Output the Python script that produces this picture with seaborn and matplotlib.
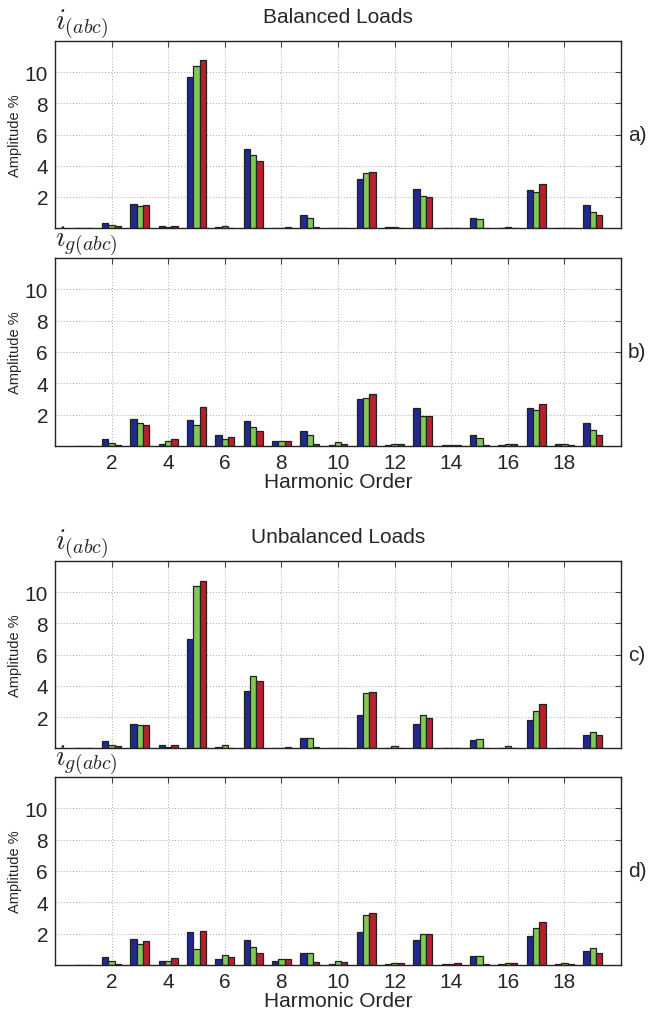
import pandas as pd
import numpy as np
import matplotlib
matplotlib.use("Agg")
import matplotlib.pyplot as plt
import seaborn as sns

harmonics = list(range(1, 20))
phases = ["a", "b", "c"]

# amplitude % per harmonic (1..19), phases a / b / c
bal_i_a = [0.0, 0.35, 1.57, 0.16, 9.68, 0.08, 5.08, 0.02, 0.85, 0.02, 3.15, 0.08, 2.49, 0.02, 0.65, 0.03, 2.43, 0.03, 1.49]
bal_i_b = [0.0, 0.20, 1.40, 0.08, 10.40, 0.16, 4.67, 0.02, 0.65, 0.02, 3.50, 0.08, 2.06, 0.02, 0.57, 0.08, 2.32, 0.03, 1.02]
bal_i_c = [0.0, 0.15, 1.49, 0.16, 10.77, 0.02, 4.33, 0.07, 0.07, 0.02, 3.58, 0.02, 1.98, 0.02, 0.02, 0.02, 2.83, 0.03, 0.82]

bal_g_a = [0.0, 0.45, 1.75, 0.13, 1.66, 0.69, 1.58, 0.30, 0.94, 0.05, 2.98, 0.05, 2.40, 0.04, 0.71, 0.05, 2.40, 0.13, 1.45]
bal_g_b = [0.0, 0.22, 1.45, 0.30, 1.34, 0.43, 1.24, 0.30, 0.71, 0.24, 3.06, 0.13, 1.91, 0.04, 0.54, 0.13, 2.32, 0.13, 1.00]
bal_g_c = [0.0, 0.05, 1.34, 0.43, 2.47, 0.60, 0.94, 0.30, 0.11, 0.13, 3.30, 0.13, 1.91, 0.04, 0.05, 0.13, 2.66, 0.05, 0.69]

unb_i_a = [0.0, 0.45, 1.58, 0.22, 7.00, 0.11, 3.70, 0.05, 0.69, 0.05, 2.15, 0.05, 1.58, 0.04, 0.52, 0.05, 1.83, 0.04, 0.86]
unb_i_b = [0.0, 0.22, 1.49, 0.11, 10.41, 0.22, 4.61, 0.05, 0.69, 0.05, 3.53, 0.13, 2.15, 0.04, 0.60, 0.13, 2.40, 0.04, 1.03]
unb_i_c = [0.0, 0.13, 1.49, 0.22, 10.73, 0.05, 4.34, 0.10, 0.11, 0.05, 3.61, 0.05, 1.98, 0.04, 0.02, 0.05, 2.82, 0.04, 0.86]

unb_g_a = [0.0, 0.50, 1.68, 0.26, 2.11, 0.35, 1.60, 0.26, 0.77, 0.07, 2.09, 0.05, 1.58, 0.05, 0.58, 0.05, 1.83, 0.05, 0.92]
unb_g_b = [0.0, 0.26, 1.34, 0.26, 1.00, 0.66, 1.17, 0.35, 0.77, 0.26, 3.19, 0.15, 2.00, 0.05, 0.58, 0.15, 2.34, 0.15, 1.07]
unb_g_c = [0.0, 0.09, 1.51, 0.43, 2.19, 0.52, 0.77, 0.35, 0.18, 0.18, 3.34, 0.15, 2.00, 0.15, 0.05, 0.15, 2.74, 0.05, 0.75]

panel_tags = ["a)", "b)", "c)", "d)"]
signal_labels = [r"$i_{(abc)}$", r"$i_{g(abc)}$", r"$i_{(abc)}$", r"$i_{g(abc)}$"]
colors = ["#1e2a8e", "#80c955", "#b8202e"]


def make_frame(a, b, c):
    rows = []
    for ph, vals in zip(phases, [a, b, c]):
        for h, v in zip(harmonics, vals):
            rows.append({"harmonic": h, "phase": ph, "amp": v})
    return pd.DataFrame(rows)


sns.set_style("white")
plt.rcParams["font.family"] = ["Liberation Sans", "DejaVu Sans"]
plt.rcParams["mathtext.fontset"] = "cm"

fig = plt.figure(figsize=(6.6, 10.12), dpi=100)
left, width = 0.0833, 0.8576
boxes = [(0.7737, 0.1848), (0.5583, 0.1858), (0.2594, 0.1853), (0.0455, 0.1858)]
data = [(bal_i_a, bal_i_b, bal_i_c), (bal_g_a, bal_g_b, bal_g_c),
        (unb_i_a, unb_i_b, unb_i_c), (unb_g_a, unb_g_b, unb_g_c)]

for k, ((bot, h), series) in enumerate(zip(boxes, data)):
    ax = fig.add_axes([left, bot, width, h])
    df = make_frame(*series)
    sns.barplot(data=df, x="harmonic", y="amp", hue="phase", native_scale=True,
                palette=colors, saturation=1, width=0.67, errorbar=None,
                legend=False, edgecolor="#222222", linewidth=0.9, ax=ax)
    ax.set_xlim(0, 20)
    ax.set_ylim(0, 12)
    ax.set_yticks([2, 4, 6, 8, 10])
    ax.set_xticks(range(2, 20, 2))
    ax.grid(True, linestyle=(0, (1, 2)), color="#aaaaaa", linewidth=0.7)
    ax.set_axisbelow(True)
    ax.tick_params(direction="in", top=True, right=True, length=4,
                   labelsize=15, color="#444444", pad=5)
    for s in ax.spines.values():
        s.set_color("#222222")
        s.set_linewidth(1.0)
    ax.set_ylabel("Amplitude %", fontsize=10.5, labelpad=2)
    if k in (1, 3):
        ax.set_xlabel("Harmonic Order", fontsize=15, labelpad=0)
    else:
        ax.set_xlabel("")
        ax.set_xticklabels([])
    ax.text(1.012, 0.5, panel_tags[k], transform=ax.transAxes,
            fontsize=15, va="center", ha="left")
    ax.text(0.0, 1.0, signal_labels[k], transform=ax.transAxes,
            fontsize=20.5, va="bottom", ha="left")
    if k == 0:
        ax.set_title("Balanced Loads", fontsize=15, pad=14)
    if k == 2:
        ax.set_title("Unbalanced Loads", fontsize=15, pad=14)

fig.savefig("out.png", dpi=100)
